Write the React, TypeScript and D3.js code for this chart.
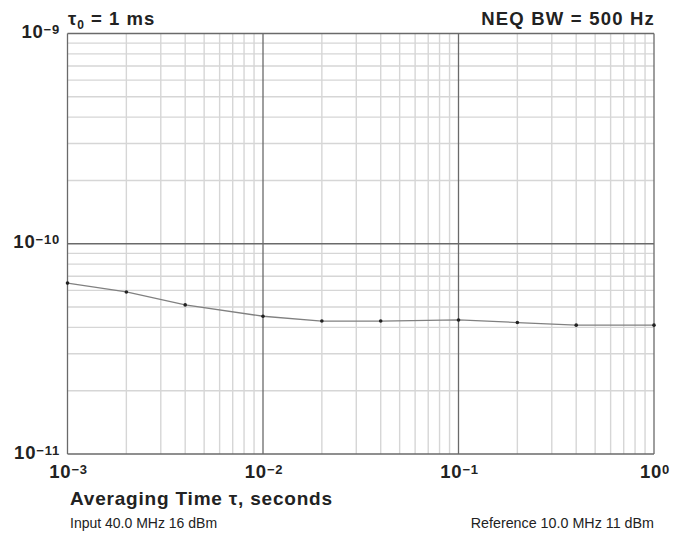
import React, { useEffect, useRef } from "react";
import * as d3 from "d3";

// averaging time tau (s) and Allan deviation values
const tauValues = [1e-3, 2e-3, 4e-3, 1e-2, 2e-2, 4e-2, 1e-1, 2e-1, 4e-1, 1];
const adevValues = [6.5e-11, 5.9e-11, 5.12e-11, 4.52e-11, 4.29e-11, 4.29e-11, 4.34e-11, 4.22e-11, 4.1e-11, 4.1e-11];
const xTickExps = [-3, -2, -1, 0];
const yTickExps = [-11, -10, -9];

const supMinus = (e: number) => (e < 0 ? "\u2212" + Math.abs(e) : String(e));

const App = () => {
  const svgRef = useRef<SVGSVGElement>(null);

  useEffect(() => {
    const w = 685;
    const h = 536;
    const m = { left: 67.5, right: 31, top: 33.5, bottom: 82 };
    const font = "'Liberation Sans', Arial, Helvetica, sans-serif";

    const svg = d3.select(svgRef.current).attr("width", w).attr("height", h);
    svg.selectAll("*").remove();

    const x = d3.scaleLog().domain([1e-3, 1]).range([m.left, w - m.right]);
    const y = d3.scaleLog().domain([1e-11, 1e-9]).range([h - m.bottom, m.top]);

    const grid = svg.append("g");
    // minor grid lines
    const minorX: number[] = [];
    const minorY: number[] = [];
    for (let e = -3; e < 0; e++) for (let k = 2; k < 10; k++) minorX.push(k * Math.pow(10, e));
    for (let e = -11; e < -9; e++) for (let k = 2; k < 10; k++) minorY.push(k * Math.pow(10, e));

    grid.selectAll("line.mx").data(minorX).join("line")
      .attr("class", "mx")
      .attr("x1", d => x(d)).attr("x2", d => x(d))
      .attr("y1", y.range()[1]).attr("y2", y.range()[0])
      .attr("stroke", "#d6d6d6").attr("stroke-width", 1.4);
    grid.selectAll("line.my").data(minorY).join("line")
      .attr("class", "my")
      .attr("x1", x.range()[0]).attr("x2", x.range()[1])
      .attr("y1", d => y(d)).attr("y2", d => y(d))
      .attr("stroke", "#d6d6d6").attr("stroke-width", 1.4);

    // major grid lines
    grid.selectAll("line.Mx").data(xTickExps).join("line")
      .attr("class", "Mx")
      .attr("x1", d => x(Math.pow(10, d))).attr("x2", d => x(Math.pow(10, d)))
      .attr("y1", y.range()[1]).attr("y2", y.range()[0])
      .attr("stroke", "#6a6a6a").attr("stroke-width", 1.3);
    grid.selectAll("line.My").data(yTickExps).join("line")
      .attr("class", "My")
      .attr("x1", x.range()[0]).attr("x2", x.range()[1])
      .attr("y1", d => y(Math.pow(10, d))).attr("y2", d => y(Math.pow(10, d)))
      .attr("stroke", "#6a6a6a").attr("stroke-width", 1.3);

    // data line
    const pts = tauValues.map((t, i) => [t, adevValues[i]] as [number, number]);
    const line = d3.line<[number, number]>().x(d => x(d[0])).y(d => y(d[1]));
    svg.append("path").datum(pts)
      .attr("d", line)
      .attr("fill", "none")
      .attr("stroke", "#808080")
      .attr("stroke-width", 1.3);
    svg.selectAll("circle.pt").data(pts).join("circle")
      .attr("class", "pt")
      .attr("cx", d => x(d[0])).attr("cy", d => y(d[1]))
      .attr("r", 1.8).attr("fill", "#222");

    // y tick labels
    const yl = svg.selectAll("text.yl").data(yTickExps).join("text")
      .attr("class", "yl")
      .attr("x", 60).attr("y", d => y(Math.pow(10, d)) + 4.5)
      .attr("text-anchor", "end")
      .attr("font-family", font).attr("font-weight", "bold").attr("font-size", 18.5)
      .attr("letter-spacing", 0.8).attr("fill", "#222");
    yl.append("tspan").text("10");
    yl.append("tspan").attr("dy", -4).attr("font-size", 13).text(d => supMinus(d));

    // x tick labels
    const xl = svg.selectAll("text.xl").data(xTickExps).join("text")
      .attr("class", "xl")
      .attr("x", d => x(Math.pow(10, d)) + 1).attr("y", 478)
      .attr("text-anchor", "middle")
      .attr("font-family", font).attr("font-weight", "bold").attr("font-size", 18.5)
      .attr("letter-spacing", 0.8).attr("fill", "#222");
    xl.append("tspan").text("10");
    xl.append("tspan").attr("dy", -4).attr("font-size", 13).text(d => supMinus(d));

    // titles
    const t0 = svg.append("text").attr("x", 68).attr("y", 24.5)
      .attr("font-family", font).attr("font-weight", "bold").attr("font-size", 18.5)
      .attr("letter-spacing", 1).attr("fill", "#222");
    t0.append("tspan").text("\u03c4");
    t0.append("tspan").attr("dy", 4).attr("font-size", 12).text("0");
    t0.append("tspan").attr("dy", -4).text(" = 1 ms");

    svg.append("text").attr("x", 655).attr("y", 24.5).attr("text-anchor", "end")
      .attr("font-family", font).attr("font-weight", "bold").attr("font-size", 18.5)
      .attr("letter-spacing", 1.2).attr("fill", "#222")
      .text("NEQ BW = 500 Hz");

    svg.append("text").attr("x", 70).attr("y", 505)
      .attr("font-family", font).attr("font-weight", "bold").attr("font-size", 19)
      .attr("letter-spacing", 0.8).attr("fill", "#222")
      .text("Averaging Time \u03c4, seconds");

    svg.append("text").attr("x", 70).attr("y", 528)
      .attr("font-family", font).attr("font-size", 14).attr("fill", "#222")
      .text("Input 40.0 MHz 16 dBm");
    svg.append("text").attr("x", 654).attr("y", 528).attr("text-anchor", "end")
      .attr("font-family", font).attr("font-size", 14.3).attr("fill", "#222")
      .text("Reference 10.0 MHz 11 dBm");
  }, []);

  return <svg ref={svgRef} style={{ position: "absolute", left: 0, top: 0 }} />;
};

export default App;
